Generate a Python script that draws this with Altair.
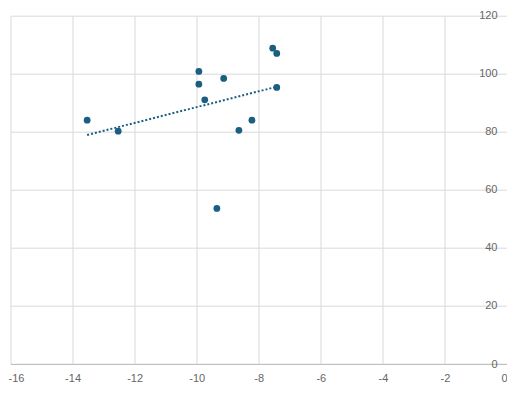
import altair as alt
import pandas as pd

x_vals = [-13.53, -12.53, -9.93, -9.93, -9.74, -9.13, -8.64, -8.22, -9.35, -7.55, -7.42, -7.42]
y_vals = [84.0, 80.2, 100.8, 96.4, 91.0, 98.4, 80.5, 84.0, 53.6, 108.8, 107.0, 95.3]
x_ticks = [-16, -14, -12, -10, -8, -6, -4, -2, 0]
y_ticks = [0, 20, 40, 60, 80, 100, 120]

df = pd.DataFrame({"x": x_vals, "y": y_vals})

COLOR = "#1a5e82"
FONT = "Liberation Sans"

x_enc = alt.X(
    "x:Q",
    scale=alt.Scale(domain=[-16, 0], nice=False, zero=False),
    axis=alt.Axis(
        values=x_ticks,
        title=None,
        grid=True,
        gridColor="#d9d9d9",
        domainColor="#bfbfbf",
        ticks=False,
        labelPadding=8,
        labelColor="#666666",
        labelFont=FONT,
        labelFontSize=11,
        labelExpr="'' + datum.value",
        labelAlign={
            "condition": [
                {"test": "datum.value === -16", "value": "left"},
                {"test": "datum.value === 0", "value": "right"},
            ],
            "value": "center",
        },
        labelOffset={"condition": {"test": "datum.value === -16", "value": -2.5}, "value": 0},
    ),
)
y_enc = alt.Y(
    "y:Q",
    scale=alt.Scale(domain=[0, 120], nice=False),
    axis=alt.Axis(
        orient="right",
        values=y_ticks,
        title=None,
        grid=True,
        gridColor="#d9d9d9",
        domainColor="#bfbfbf",
        ticks=False,
        labelPadding=-10,
        labelAlign="right",
        labelBaseline="middle",
        labelColor="#666666",
        labelFont=FONT,
        labelFontSize=11,
    ),
)

points = alt.Chart(df).mark_circle(size=46, color=COLOR, opacity=1).encode(x=x_enc, y=y_enc)

trend = (
    alt.Chart(df)
    .transform_regression("x", "y")
    .mark_line(color=COLOR, strokeWidth=2, strokeDash=[2, 2])
    .encode(x="x:Q", y="y:Q")
)

chart = (
    alt.layer(trend, points)
    .properties(
        width=496.5,
        height=348.3,
        autosize=alt.AutoSizeParams(type="none"),
        padding={"left": 2.5, "top": 7.7, "right": 0, "bottom": 24},
    )
    .configure_view(stroke=None)
)

chart.save("out.html", embed_options={"renderer": "svg", "actions": False})
